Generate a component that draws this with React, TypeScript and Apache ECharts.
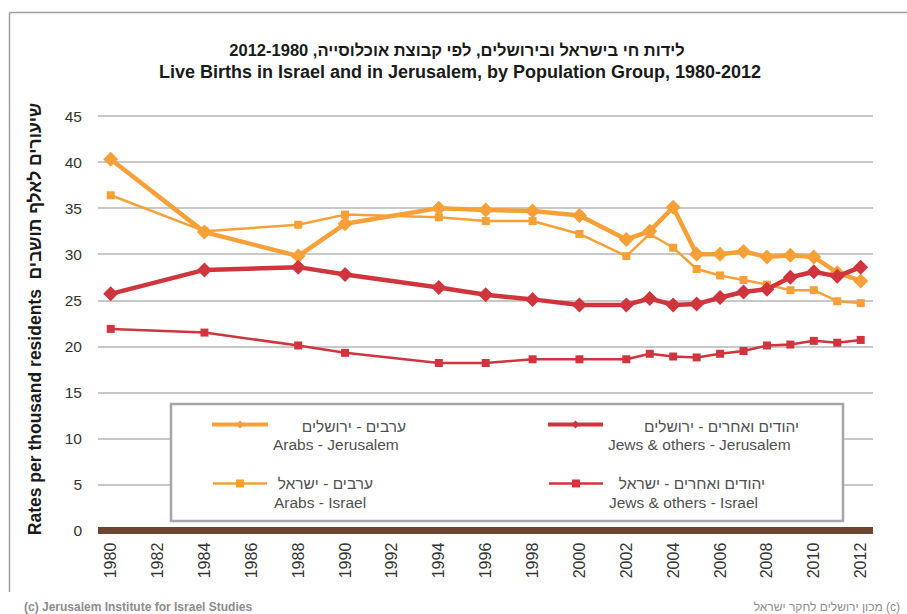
import React, { useEffect, useRef } from "react";
import * as echarts from "echarts";

const years = [1980, 1984, 1988, 1990, 1994, 1996, 1998, 2000, 2002, 2003, 2004, 2005, 2006, 2007, 2008, 2009, 2010, 2011, 2012];
const arabsJerusalem = [40.3, 32.4, 29.8, 33.3, 35.0, 34.8, 34.7, 34.2, 31.6, 32.5, 35.1, 30.0, 30.0, 30.3, 29.7, 29.9, 29.7, 28.0, 27.1];
const arabsIsrael = [36.4, 32.5, 33.2, 34.3, 34.0, 33.6, 33.6, 32.2, 29.8, 32.2, 30.7, 28.4, 27.7, 27.2, 26.7, 26.1, 26.1, 24.9, 24.7];
const jewsJerusalem = [25.7, 28.3, 28.6, 27.8, 26.4, 25.6, 25.1, 24.5, 24.5, 25.2, 24.5, 24.6, 25.3, 25.9, 26.2, 27.5, 28.1, 27.6, 28.6];
const jewsIsrael = [21.9, 21.5, 20.1, 19.3, 18.2, 18.2, 18.6, 18.6, 18.6, 19.2, 18.9, 18.8, 19.2, 19.5, 20.1, 20.2, 20.6, 20.4, 20.7];
const xTickLabels = [1980, 1982, 1984, 1986, 1988, 1990, 1992, 1994, 1996, 1998, 2000, 2002, 2004, 2006, 2008, 2010, 2012];

const titleHe = "לידות חי בישראל ובירושלים, לפי קבוצת אוכלוסייה, 2012-1980";
const titleEn = "Live Births in Israel and in Jerusalem, by Population Group, 1980-2012";
const yTitle = "Rates per thousand residents  שיעורים לאלף תושבים";
const footerEn = "(c) Jerusalem Institute for Israel Studies";
const footerHe = "מכון ירושלים לחקר ישראל (c)";

const seriesNames = {
  aj: ["ערבים - ירושלים", "Arabs - Jerusalem"],
  ai: ["ערבים - ישראל", "Arabs - Israel"],
  jj: ["יהודים ואחרים - ירושלים", "Jews & others - Jerusalem"],
  ji: ["יהודים ואחרים - ישראל", "Jews & others - Israel"],
};

const ORANGE = "#f7a037";
const RED = "#d0343c";
const FONT = "'Liberation Sans', Arial, sans-serif";

export default function App() {
  const ref = useRef<HTMLDivElement>(null);
  useEffect(() => {
    if (!ref.current) return;
    const chart = echarts.init(ref.current, null, { renderer: "svg" });
    const pts = (vals: number[]) => years.map((y, i) => [y, vals[i]]);
    const thick = (name: string, vals: number[], color: string, z: number) => ({
      type: "line", name, data: pts(vals), symbol: "diamond", symbolSize: 15,
      lineStyle: { width: 4.5, color }, itemStyle: { color }, z, silent: true,
    });
    const thin = (name: string, vals: number[], color: string, z: number) => ({
      type: "line", name, data: pts(vals), symbol: "rect", symbolSize: 8,
      lineStyle: { width: 2.5, color }, itemStyle: { color }, z, silent: true,
    });
    const legendText = (he: string, en: string, heRight: number, enLeft: number, y1: number, y2: number) => [
      { type: "text", x: heRight, y: y1, style: { text: he, font: `15.5px ${FONT}`, fill: "#505050", align: "right", verticalAlign: "middle" }, z: 101 },
      { type: "text", x: enLeft, y: y2, style: { text: en, font: `15.5px ${FONT}`, fill: "#505050", align: "left", verticalAlign: "middle" }, z: 101 },
    ];
    const sample = (x1: number, x2: number, y: number, color: string, w: number, diamond: boolean) => [
      { type: "line", shape: { x1, y1: y, x2, y2: y }, style: { stroke: color, lineWidth: w }, z: 101 },
      diamond
        ? { type: "polygon", shape: { points: [[(x1 + x2) / 2 - 4, y], [(x1 + x2) / 2, y - 4], [(x1 + x2) / 2 + 4, y], [(x1 + x2) / 2, y + 4]] }, style: { fill: color }, z: 102 }
        : { type: "rect", shape: { x: (x1 + x2) / 2 - 4, y: y - 4, width: 8, height: 8 }, style: { fill: color }, z: 102 },
    ];
    chart.setOption({
      animation: false,
      backgroundColor: "#ffffff",
      grid: { left: 98, right: 34, top: 116, bottom: 83.3 },
      xAxis: {
        type: "value",
        min: 1979.458,
        max: 2012.525,
        axisLine: { show: true, lineStyle: { color: "#6e4530", width: 7, cap: "butt" } },
        axisTick: { show: false },
        splitLine: { show: false },
        axisLabel: {
          customValues: xTickLabels,
          rotate: 90,
          margin: 12,
          fontSize: 16,
          color: "#333333",
          fontFamily: FONT,
          formatter: (v: number) => String(v),
        },
      },
      yAxis: {
        type: "value",
        min: 0,
        max: 45,
        interval: 5,
        axisLine: { show: false },
        axisTick: { show: false },
        splitLine: { lineStyle: { color: "#c8c8c8", width: 2 } },
        axisLabel: { fontSize: 15.5, color: "#333333", fontFamily: FONT, margin: 16 },
      },
      series: [
        thin(seriesNames.ai[1], arabsIsrael, ORANGE, 2),
        thin(seriesNames.ji[1], jewsIsrael, RED, 3),
        thick(seriesNames.aj[1], arabsJerusalem, ORANGE, 4),
        thick(seriesNames.jj[1], jewsJerusalem, RED, 5),
      ],
      graphic: [
        { type: "line", shape: { x1: 9.5, y1: 12.5, x2: 907, y2: 12.5 }, style: { stroke: "#a0a0a0", lineWidth: 1.5 }, z: 100 },
        { type: "line", shape: { x1: 9.5, y1: 12.5, x2: 9.5, y2: 592 }, style: { stroke: "#a0a0a0", lineWidth: 1.5 }, z: 100 },
        { type: "text", x: 457, y: 50, style: { text: titleHe, font: `bold 16.5px ${FONT}`, fill: "#1a1a1a", align: "center", verticalAlign: "middle" }, z: 100 },
        { type: "text", x: 460, y: 72, style: { text: titleEn, font: `bold 18px ${FONT}`, fill: "#1a1a1a", align: "center", verticalAlign: "middle" }, z: 100 },
        { type: "text", x: 35, y: 319, rotation: Math.PI / 2, style: { text: yTitle, font: `bold 17.5px ${FONT}`, fill: "#1a1a1a", align: "center", verticalAlign: "middle" }, z: 100 },
        { type: "text", x: 24, y: 607, style: { text: footerEn, font: `bold 12px ${FONT}`, fill: "#8c8c8c", align: "left", verticalAlign: "middle" }, z: 100 },
        { type: "text", x: 900, y: 607, style: { text: footerHe, font: `12px ${FONT}`, fill: "#8c8c8c", align: "right", verticalAlign: "middle" }, z: 100 },
        { type: "rect", shape: { x: 171, y: 404, width: 672, height: 117 }, style: { fill: "#ffffff", stroke: "#a6a6a6", lineWidth: 2.5 }, z: 100 },
        ...sample(212, 268, 424.5, ORANGE, 4, true),
        ...sample(213, 267, 483.5, ORANGE, 2.5, false),
        ...sample(548, 603, 424.5, RED, 4, true),
        ...sample(549, 603, 483.5, RED, 2.5, false),
        ...legendText(seriesNames.aj[0], seriesNames.aj[1], 406, 273, 426, 444),
        ...legendText(seriesNames.ai[0], seriesNames.ai[1], 373, 274, 483, 502),
        ...legendText(seriesNames.jj[0], seriesNames.jj[1], 799, 608, 426, 444),
        ...legendText(seriesNames.ji[0], seriesNames.ji[1], 765, 609, 483, 502),
      ],
    });
    return () => chart.dispose();
  }, []);
  return <div ref={ref} style={{ position: "absolute", left: 0, top: 0, width: 907, height: 614 }} />;
}
